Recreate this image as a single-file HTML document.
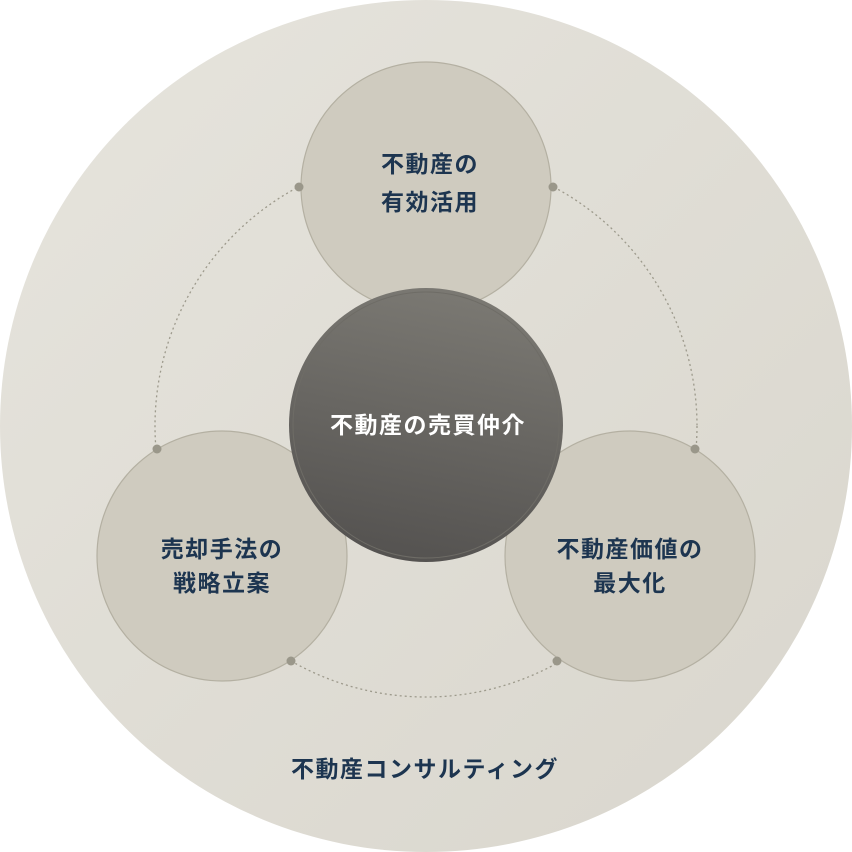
<!DOCTYPE html>
<html><head><meta charset="utf-8"><style>
html,body{margin:0;padding:0;background:#fff;}
svg{display:block;}
text{font-family:"Liberation Sans","Noto Sans CJK JP",sans-serif;font-weight:700;letter-spacing:1.5px;}
</style></head><body>
<svg width="852" height="852" viewBox="0 0 852 852" xmlns="http://www.w3.org/2000/svg">
<defs>
<linearGradient id="bg" x1="0" y1="0" x2="1" y2="1">
<stop offset="0" stop-color="#e6e4dd"/><stop offset="1" stop-color="#d9d6cd"/>
</linearGradient>
<linearGradient id="dk" x1="0.6" y1="0" x2="0.4" y2="1">
<stop offset="0" stop-color="#7b7973"/><stop offset="1" stop-color="#545250"/>
</linearGradient>
</defs>
<circle cx="426" cy="426" r="426" fill="url(#bg)"/>
<circle cx="426" cy="426" r="271" fill="none" stroke="#9d9a8c" stroke-width="1.3" stroke-dasharray="2 3"/>
<g fill="#cfcbbf" stroke="#b4b0a2" stroke-width="1.2">
<circle cx="426" cy="187" r="125"/>
<circle cx="222" cy="556" r="125"/>
<circle cx="630" cy="556" r="125"/>
</g>
<g fill="#9a978a">
<circle cx="299" cy="187" r="4.5"/><circle cx="553" cy="187" r="4.5"/>
<circle cx="157" cy="449" r="4.5"/><circle cx="695" cy="449" r="4.5"/>
<circle cx="291" cy="661" r="4.5"/><circle cx="557" cy="661" r="4.5"/>
</g>
<circle cx="426" cy="425" r="137" fill="url(#dk)"/>
<circle cx="426" cy="425" r="133" fill="none" stroke="#6e6c66" stroke-width="1"/>
<g fill="#1d3550" font-size="23" text-anchor="middle">
<text x="430" y="172">不動産の</text>
<text x="430" y="210">有効活用</text>
<text x="222" y="557">売却手法の</text>
<text x="222" y="591">戦略立案</text>
<text x="630" y="557">不動産価値の</text>
<text x="630" y="591">最大化</text>
<text x="425" y="777">不動産コンサルティング</text>
</g>
<text x="428" y="433" font-size="23" fill="#ffffff" text-anchor="middle">不動産の売買仲介</text>
</svg>
</body></html>
